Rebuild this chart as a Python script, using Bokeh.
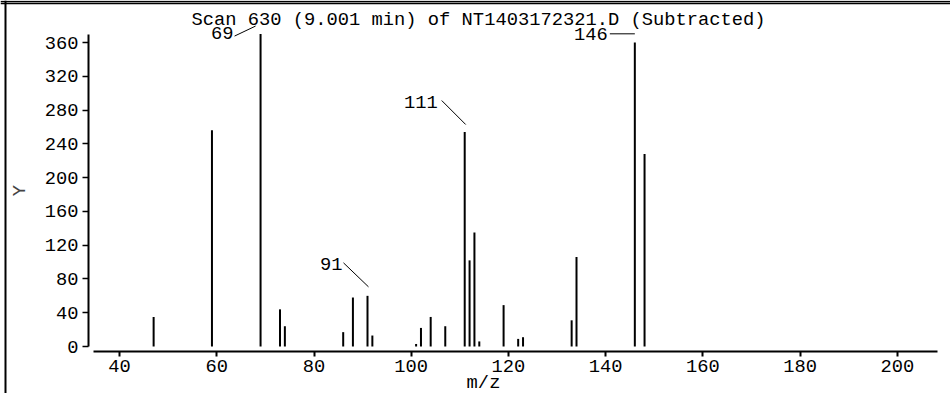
from bokeh.plotting import figure
from bokeh.models import FixedTicker, Label, ColumnDataSource
from bokeh.embed import file_html
from bokeh.resources import INLINE

# ---- data ----
mz = [47, 59, 69, 73, 74, 86, 88, 91, 92, 101, 102, 104, 107, 111, 112, 113, 114,
      119, 122, 123, 133, 134, 146, 148]
abundance = [35, 256, 370, 44, 24, 17, 58, 60, 13, 3, 22, 35, 24, 254, 102, 135, 6,
             49, 9, 11, 31, 106, 360, 228]
labeled_mz = [69, 91, 111, 146]
x_ticks = [40, 60, 80, 100, 120, 140, 160, 180, 200]
y_ticks = [0, 40, 80, 120, 160, 200, 240, 280, 320, 360]
title_text = "Scan 630 (9.001 min) of NT1403172321.D (Subtracted)"
x_label = "m/z"
y_label = "Y"

# ---- styles / layout ----
FONT = "Liberation Mono"
FS = "18.75px"
W, H = 950, 393
PXX = 4.8606          # px per m/z unit
PXY = 0.8444          # px per intensity unit
X0_MZ, X0_PX = 33.6, 88.0    # y-axis line position (canvas px)
Y0_PX = 346.0                # intensity 0 (canvas px)


def dx(px):  # canvas x px -> data
    return X0_MZ + (px - X0_PX) / PXX


def dy(py):  # canvas y px -> data
    return (Y0_PX - py) / PXY


x_start, x_end = dx(0), dx(W)
y_start, y_end = dy(H), dy(0)

# label offsets (px): text right end / vertical centre, and leader endpoints (dx, dy up)
label_off = {69: (-27, 1), 91: (-25, 32), 111: (-27, 30.5), 146: (-27, 9)}
leader_off = {69: ((-26, -2), (-5, 8)), 91: ((-24, 33), (1, 9)),
              111: ((-23, 31.5), (1, 7.5)), 146: ((-25, 8.7), (0, 8.7))}

p = figure(width=W, height=H, output_backend="svg", toolbar_location=None,
           x_range=(x_start, x_end), y_range=(y_start, y_end),
           min_border_left=0, min_border_right=0,
           min_border_top=0, min_border_bottom=0)
p.grid.visible = False
p.outline_line_color = None
p.background_fill_color = "white"
p.border_fill_color = "white"

# window frame lines (top double rule, left rule)
p.hspan(y=[dy(0.7), dy(3.3)], line_color="black", line_width=1.4)
p.vspan(x=[dx(5)], line_color="black", line_width=2)

src = ColumnDataSource(dict(x=mz, y0=[0] * len(mz), y1=abundance))
p.segment(x0="x", y0="y0", x1="x", y1="y1", source=src, line_color="black",
          line_width=2, line_cap="butt")

# axes
xa = p.xaxis[0]
xa.fixed_location = dy(351)
xa.ticker = FixedTicker(ticks=x_ticks)
xa.bounds = (dx(93), dx(937))
xa.axis_line_width = 2
xa.major_tick_out = 5
xa.major_tick_in = 0
xa.major_tick_line_width = 2
xa.minor_tick_out = 0
xa.minor_tick_in = 0
xa.major_label_standoff = 3
xa.major_label_text_font = FONT
xa.major_label_text_font_size = FS
xa.major_label_text_color = "black"

ya = p.yaxis[0]
ya.fixed_location = X0_MZ
ya.ticker = FixedTicker(ticks=y_ticks)
ya.bounds = (0, 370)
ya.axis_line_width = 2
ya.major_tick_out = 6
ya.major_tick_in = 0
ya.major_tick_line_width = 1.5
ya.minor_tick_out = 0
ya.minor_tick_in = 0
ya.major_label_standoff = 4
ya.major_label_text_font = FONT
ya.major_label_text_font_size = FS
ya.major_label_text_color = "black"
ya.axis_label = y_label
ya.axis_label_text_font = FONT
ya.axis_label_text_font_size = FS
ya.axis_label_text_font_style = "normal"
ya.axis_label_standoff = 11

# title and x label as text annotations
p.add_layout(Label(x=dx(478), y=dy(19), text=title_text, text_align="center",
                   text_baseline="alphabetic", text_font=FONT,
                   text_font_size=FS, text_color="black"))
p.add_layout(Label(x=dx(483), y=dy(382), text=x_label, text_align="center",
                   text_baseline="alphabetic", text_font=FONT,
                   text_font_size=FS, text_color="black"))

# peak labels with leader lines
lx0, ly0, lx1, ly1 = [], [], [], []
for m in labeled_mz:
    h = abundance[mz.index(m)]
    ox, oy = label_off[m]
    p.add_layout(Label(x=m, y=h, x_offset=ox, y_offset=oy, text=str(m),
                       text_align="right", text_baseline="middle",
                       text_font=FONT, text_font_size=FS, text_color="black"))
    (ax, ay), (bx, by) = leader_off[m]
    lx0.append(m + ax / PXX); ly0.append(h + ay / PXY)
    lx1.append(m + bx / PXX); ly1.append(h + by / PXY)
p.segment(x0=lx0, y0=ly0, x1=lx1, y1=ly1, line_color="black", line_width=1)

open("out.html", "w").write(file_html(p, INLINE))
